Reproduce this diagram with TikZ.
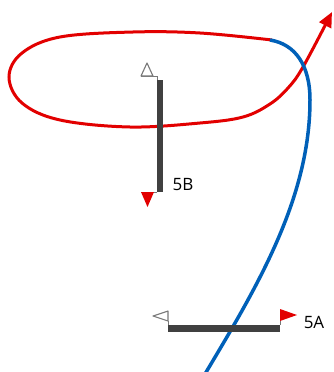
\documentclass[tikz,border=0pt]{standalone}
\usepackage{fontspec}
\setmainfont{Open Sans}
\usetikzlibrary{arrows.meta}
\definecolor{redline}{RGB}{226,0,0}
\definecolor{blueline}{RGB}{0,96,184}
\definecolor{bargray}{RGB}{64,64,64}
\definecolor{tipgray}{RGB}{120,120,120}
\tikzset{
  redpath/.style={draw=redline, line width=3pt},
  bluepath/.style={draw=blueline, line width=3.5pt},
  cutbar/.style={draw=bargray, line width=6.5pt, line cap=butt},
  thin/.style={draw=tipgray, line width=0.9pt},
  hollowtip/.style={draw=tipgray, fill=white, line width=1.1pt, line join=round},
  redtip/.style={fill=redline, draw=none},
  cutlabel/.style={font=\fontsize{17}{20}\selectfont, inner sep=0pt}
}
\begin{document}
\begin{tikzpicture}[x=1pt,y=-1pt]
\useasboundingbox (0,0) rectangle (334,372);
% red loop with arrow
\draw[redpath, -{Triangle[length=15pt,width=13pt]}]
  plot[smooth, tension=0.6] coordinates {(272,40) (200,33) (133,32) (60,37) (22,53) (9,77) (22,103) (60,120) (130,127) (200,123) (243,117) (270,104) (288,88) (303,67) (332,12)};
% blue curve
\coordinate (bA) at (270,40);
\coordinate (bB) at (310,100);
\coordinate (bC) at (205,374);
\draw[bluepath] (bA) .. controls (295,44) and (310,65) .. (bB)
  .. controls (310,200) and (255,290) .. (bC);
% section 5B
\coordinate (b5t) at (160,80);
\coordinate (b5b) at (160,192);
\draw[thin] (141,76) -- (157,76) -- (157,80);
\draw[thin] (141,192) -- (157,192);
\draw[cutbar] (b5t) -- (b5b);
\draw[hollowtip] (141,76) -- (147,63) -- (153,76) -- cycle;
\fill[redtip] (141,192) -- (154,192) -- (147.5,207) -- cycle;
\node[cutlabel] (l5b) at (183,185) {5B};
% section 5A
\coordinate (a5l) at (168,328.5);
\coordinate (a5r) at (280,328.5);
\draw[thin] (168,321) -- (168,325);
\draw[thin] (280,320) -- (280,325);
\draw[cutbar] (a5l) -- (a5r);
\draw[hollowtip] (168,311) -- (153,316) -- (168,321) -- cycle;
\fill[redtip] (280,309) -- (297,315) -- (280,321) -- cycle;
\node[cutlabel] (l5a) at (314,322) {5A};
\end{tikzpicture}
\end{document}
